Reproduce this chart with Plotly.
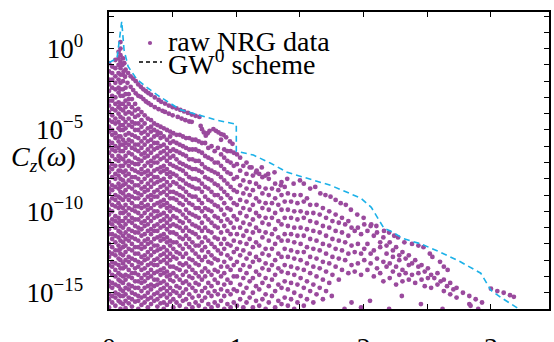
import numpy as np
import plotly.graph_objects as go

# ---------------- data ----------------
# raw NRG data: column positions (omega) and the log10 C_z values seen in each column
cloud_omega = [0.000, 0.025, 0.05, 0.075, 0.09, 0.11, 0.13, 0.155, 0.18, 0.205, 0.23, 0.255, 0.28, 0.305,
               0.33, 0.355, 0.38, 0.405, 0.43, 0.455, 0.48,
               0.505, 0.53, 0.555, 0.58, 0.605, 0.63, 0.655, 0.68, 0.705, 0.73, 0.755, 0.78, 0.805, 0.83,
               0.855, 0.88, 0.905, 0.93, 0.955, 0.98,
               1.005, 1.03, 1.055, 1.08, 1.105, 1.13, 1.155, 1.18, 1.205, 1.23, 1.255, 1.28, 1.305, 1.33,
               1.355, 1.38, 1.405, 1.43, 1.455, 1.48,
               1.505, 1.53, 1.555, 1.58, 1.605, 1.63, 1.655, 1.68, 1.705, 1.73, 1.755, 1.78, 1.805, 1.83,
               1.855, 1.88, 1.905, 1.93, 1.955, 1.98,
               2.005, 2.03, 2.055, 2.08, 2.105, 2.13, 2.155, 2.18, 2.205, 2.23, 2.255, 2.28, 2.305, 2.33,
               2.355, 2.38, 2.405, 2.43, 2.455, 2.48, 2.505, 2.53, 2.555, 2.58, 2.605, 2.63, 2.655, 2.68,
               2.705, 2.73, 2.78, 2.83, 2.88, 2.93]

cloud_lgc = [
    [-15.9,-15.4,-15.1,-14.6,-14.3,-13.7,-13.3,-12.8,-12.5,-12.0,-11.4,-11.1,-10.7,-10.2,-9.9,-9.4,-8.9,-8.6,-8.2,-7.6,-7.3,-6.9,-6.4,-6.0,-5.7,-5.1,-4.8,-4.4,-3.9,-3.5,-3.2,-2.6,-2.2,-1.9,-1.4,-0.9],
    [-15.6,-15.2,-14.7,-14.4,-13.9,-13.4,-13.1,-12.6,-12.2,-11.7,-11.4,-10.8,-10.5,-10.0,-9.6,-9.2,-8.7,-8.4,-7.9,-7.4,-7.1,-6.6,-6.2,-5.8,-5.3,-5.0,-4.5,-4.1,-3.7,-3.2,-2.9,-2.4,-1.9,-1.5,-1.1],
    [-15.8,-15.3,-15.0,-14.5,-14.0,-13.6,-13.2,-12.7,-12.4,-11.9,-11.5,-11.0,-10.6,-10.3,-9.7,-9.3,-9.0,-8.5,-8.0,-7.7,-7.2,-6.8,-6.3,-6.0,-5.5,-5.2,-4.6,-4.3,-3.8,-3.4,-3.0,-2.5,-2.1,-1.7,-1.2,-0.7],
    [-15.5,-15.1,-14.6,-14.2,-13.8,-13.3,-12.9,-12.4,-12.1,-11.6,-11.2,-10.7,-10.4,-9.8,-9.5,-9.1,-8.6,-8.3,-7.8,-7.5,-6.9,-6.6,-6.1,-5.7,-5.4,-4.9,-4.5,-4.0,-3.6,-3.3,-2.7,-2.4,-1.9,-1.5,-1.0,-0.6,-0.2],
    [-16.0,-15.6,-15.2,-14.8,-14.3,-13.9,-13.5,-13.0,-12.6,-12.3,-11.8,-11.3,-10.9,-10.6,-10.1,-9.7,-9.2,-8.8,-8.5,-8.0,-7.5,-7.2,-6.7,-6.3,-5.9,-5.4,-5.0,-4.7,-4.2,-3.7,-3.4,-2.9,-2.5,-2.1,-1.6,-1.2,-0.8,-0.4,0.0,0.4],
    [-15.7,-15.2,-14.9,-14.4,-14.0,-13.5,-13.2,-12.7,-12.2,-11.9,-11.5,-11.0,-10.6,-10.1,-9.8,-9.3,-8.9,-8.4,-8.1,-7.6,-7.2,-6.8,-6.3,-5.9,-5.6,-5.0,-4.7,-4.3,-3.8,-3.4,-2.9,-2.5,-2.0,-1.6],
    [-15.95,-15.5,-15.1,-14.7,-14.2,-13.9,-13.4,-13.0,-12.5,-12.1,-11.7,-11.3,-10.8,-10.4,-10.0,-9.6,-9.1,-8.7,-8.3,-7.8,-7.5,-7.0,-6.6,-6.1,-5.8,-5.3,-4.9,-4.5,-4.0,-3.6,-3.2,-2.8,-2.4],
    [-15.65,-15.3,-14.8,-14.5,-14.0,-13.6,-13.1,-12.8,-12.3,-11.8,-11.5,-11.1,-10.6,-10.2,-9.8,-9.3,-9.0,-8.5,-8.1,-7.7,-7.2,-6.9,-6.4,-5.9,-5.6,-5.2,-4.7,-4.3,-3.9,-3.4,-3.1,-2.8],
    [-15.85,-15.4,-15.0,-14.6,-14.1,-13.8,-13.3,-12.9,-12.4,-12.0,-11.6,-11.2,-10.7,-10.4,-9.9,-9.5,-9.1,-8.6,-8.2,-7.9,-7.4,-7.0,-6.5,-6.1,-5.7,-5.3,-4.8,-4.5,-4.0,-3.6,-3.1],
    [-15.55,-15.1,-14.7,-14.3,-13.8,-13.5,-13.0,-12.6,-12.2,-11.7,-11.3,-10.9,-10.5,-10.0,-9.7,-9.2,-8.8,-8.4,-7.9,-7.5,-7.1,-6.7,-6.2,-5.9,-5.4,-5.0,-4.6,-4.2,-3.8,-3.4],
    [-16.0,-15.5,-15.2,-14.7,-14.3,-13.9,-13.4,-13.1,-12.6,-12.2,-11.8,-11.3,-11.0,-10.5,-10.1,-9.7,-9.2,-8.9,-8.4,-8.0,-7.6,-7.1,-6.8,-6.3,-5.9,-5.5,-5.0,-4.6,-4.1,-3.7],
    [-15.75,-15.3,-14.9,-14.4,-14.1,-13.6,-13.2,-12.8,-12.3,-12.0,-11.5,-11.1,-10.7,-10.3,-9.8,-9.5,-9.0,-8.6,-8.2,-7.7,-7.4,-6.9,-6.5,-6.1,-5.7,-5.2,-4.8,-4.4,-3.9],
    [-15.6,-15.2,-14.7,-14.3,-13.9,-13.5,-13.0,-12.7,-12.2,-11.8,-11.4,-10.9,-10.6,-10.1,-9.7,-9.3,-8.8,-8.5,-8.0,-7.6,-7.2,-6.7,-6.4,-5.9,-5.5,-5.1,-4.6,-4.1],
    [-15.9,-15.4,-15.0,-14.6,-14.1,-13.8,-13.3,-12.9,-12.5,-12.0,-11.7,-11.2,-10.8,-10.4,-9.9,-9.6,-9.1,-8.7,-8.3,-7.8,-7.5,-7.0,-6.6,-6.2,-5.7,-5.3,-4.9,-4.3],
    [-15.7,-15.3,-14.8,-14.5,-14.0,-13.6,-13.2,-12.7,-12.3,-11.9,-11.4,-11.1,-10.6,-10.2,-9.8,-9.3,-9.0,-8.5,-8.1,-7.7,-7.2,-6.9,-6.4,-6.0,-5.6,-5.1,-4.8,-4.4],
    [-15.5,-15.1,-14.6,-14.2,-13.8,-13.3,-13.0,-12.5,-12.1,-11.7,-11.2,-10.9,-10.4,-10.0,-9.6,-9.1,-8.8,-8.3,-7.9,-7.5,-7.0,-6.7,-6.2,-5.8,-5.4,-5.0,-4.6],
    [-15.85,-15.4,-15.0,-14.5,-14.2,-13.7,-13.3,-12.9,-12.4,-12.1,-11.6,-11.2,-10.8,-10.3,-10.0,-9.5,-9.1,-8.7,-8.2,-7.9,-7.4,-7.0,-6.6,-6.1,-5.8,-5.3,-5.1,-4.7],
    [-15.65,-15.2,-14.8,-14.4,-13.9,-13.6,-13.1,-12.7,-12.3,-11.8,-11.5,-11.0,-10.6,-10.2,-9.7,-9.4,-8.9,-8.5,-8.1,-7.6,-7.3,-6.8,-6.4,-6.0,-5.5,-5.2,-4.8],
    [-16.0,-15.6,-15.1,-14.7,-14.3,-13.8,-13.5,-13.0,-12.6,-12.2,-11.7,-11.4,-10.9,-10.5,-10.1,-9.6,-9.3,-8.8,-8.4,-8.0,-7.5,-7.2,-6.7,-6.3,-5.9,-5.4,-4.9],
    [-15.75,-15.3,-14.9,-14.5,-14.0,-13.7,-13.2,-12.8,-12.4,-11.9,-11.6,-11.1,-10.7,-10.3,-9.8,-9.5,-9.0,-8.6,-8.2,-7.7,-7.4,-6.9,-6.5,-6.1,-5.6,-5.0],
    [-15.55,-15.1,-14.7,-14.2,-13.9,-13.4,-13.0,-12.6,-12.1,-11.8,-11.3,-10.9,-10.5,-10.0,-9.7,-9.2,-8.8,-8.4,-7.9,-7.6,-7.1,-6.7,-6.3,-5.8,-5.4,-5.1],
    [-15.9,-15.4,-14.9,-14.3,-13.8,-13.4,-12.8,-12.3,-11.9,-11.3,-10.8,-10.3,-9.8,-9.2,-8.8,-8.2,-7.7,-7.2,-6.6,-6.2,-5.7,-5.2],
    [-15.6,-15.0,-14.6,-14.0,-13.5,-12.9,-12.5,-11.9,-11.4,-10.9,-10.4,-9.9,-9.3,-8.9,-8.3,-7.8,-7.3,-6.8,-6.3,-5.8,-5.3],
    [-15.8,-15.2,-14.7,-14.2,-13.6,-13.2,-12.6,-12.1,-11.6,-11.0,-10.6,-10.0,-9.5,-9.0,-8.5,-8.0,-7.4,-7.0,-6.4,-5.9,-5.3],
    [-15.5,-15.0,-14.4,-13.9,-13.3,-12.8,-12.3,-11.7,-11.2,-10.7,-10.2,-9.6,-9.1,-8.6,-8.1,-7.5,-7.1,-6.5,-6.0,-5.4],
    [-16.0,-15.4,-14.8,-14.3,-13.7,-13.2,-12.6,-12.0,-11.5,-11.0,-10.4,-9.9,-9.3,-8.8,-8.3,-7.7,-7.2,-6.6,-6.1,-5.5],
    [-15.7,-15.1,-14.5,-14.0,-13.4,-12.9,-12.2,-11.7,-11.2,-10.6,-10.1,-9.5,-9.0,-8.4,-7.9,-7.3,-6.8,-6.2,-5.5],
    [-15.9,-15.3,-14.7,-14.1,-13.6,-13.0,-12.4,-11.9,-11.3,-10.8,-10.2,-9.6,-9.1,-8.5,-8.0,-7.4,-6.8,-6.2,-5.6],
    [-15.6,-14.9,-14.4,-13.8,-13.2,-12.6,-12.1,-11.4,-10.9,-10.3,-9.8,-9.1,-8.6,-8.0,-7.4,-6.9,-6.2,-5.6],
    [-15.8,-15.2,-14.5,-14.0,-13.3,-12.8,-12.1,-11.6,-11.0,-10.4,-9.8,-9.3,-8.6,-8.1,-7.5,-6.9,-6.3,-5.7],
    [-15.5,-14.9,-14.2,-13.7,-13.0,-12.4,-11.9,-11.2,-10.7,-10.0,-9.5,-8.8,-8.3,-7.6,-7.1,-6.4,-5.8],
    [-16.0,-15.3,-14.7,-14.0,-13.5,-12.8,-12.2,-11.6,-11.0,-10.3,-9.8,-9.1,-8.5,-7.9,-7.3,-6.6,-5.8],
    [-15.7,-15.0,-14.4,-13.7,-13.1,-12.5,-11.8,-11.2,-10.5,-9.9,-9.3,-8.6,-8.0,-7.4,-6.7,-6.1],
    [-15.9,-15.2,-14.6,-13.9,-13.2,-12.7,-12.0,-11.3,-10.7,-10.0,-9.4,-8.8,-8.1,-7.5,-6.8,-6.0],
    [-15.6,-14.9,-14.2,-13.6,-12.9,-12.2,-11.6,-10.9,-10.3,-9.6,-9.0,-8.3,-7.6,-7.0,-6.3],
    [-15.8,-15.1,-14.4,-13.7,-13.0,-12.4,-11.7,-11.0,-10.4,-9.7,-9.0,-8.4,-7.7,-7.0,-6.1],
    [-15.5,-14.8,-14.0,-13.4,-12.6,-12.0,-11.3,-10.6,-9.9,-9.2,-8.6,-7.9,-7.2,-6.5],
    [-16.0,-15.2,-14.5,-13.8,-13.1,-12.3,-11.7,-10.9,-10.2,-9.5,-8.8,-8.1,-7.4,-6.7,-6.2],
    [-15.7,-14.9,-14.2,-13.4,-12.7,-12.0,-11.2,-10.5,-9.8,-9.0,-8.3,-7.6,-6.9,-6.3],
    [-15.9,-15.1,-14.4,-13.6,-12.9,-12.1,-11.4,-10.7,-9.9,-9.2,-8.5,-7.7,-7.0,-6.3],
    [-15.6,-14.8,-14.0,-13.3,-12.5,-11.8,-11.0,-10.3,-9.5,-8.7,-8.0,-7.2,-6.4],
    [-15.8,-14.9,-14.0,-13.1,-12.3,-11.4,-10.5,-9.6,-8.8,-7.9,-7.1,-6.5],
    [-15.4,-14.5,-13.6,-12.7,-11.9,-11.0,-10.1,-9.3,-8.4,-7.5,-6.7],
    [-15.9,-15.0,-14.1,-13.3,-12.4,-11.5,-10.7,-9.8,-8.9,-8.1,-7.2],
    [-15.6,-14.7,-13.8,-12.9,-12.0,-11.2,-10.3,-9.4,-8.6,-7.7,-7.0],
    [-15.3,-14.3,-13.4,-12.6,-11.7,-10.8,-9.9,-9.0,-8.2,-7.3],
    [-15.9,-15.0,-14.1,-13.1,-12.2,-11.3,-10.5,-9.6,-8.7,-7.8],
    [-15.5,-14.6,-13.7,-12.8,-11.9,-11.0,-10.1,-9.2,-8.3,-7.6],
    [-15.8,-14.8,-13.9,-13.0,-12.1,-11.2,-10.3,-9.4,-8.5,-7.7],
    [-15.4,-14.4,-13.5,-12.6,-11.6,-10.7,-9.8,-8.9,-7.9],
    [-16.0,-15.1,-14.1,-13.2,-12.3,-11.3,-10.4,-9.5,-8.6,-7.8],
    [-15.6,-14.6,-13.6,-12.7,-11.8,-10.8,-9.9,-9.0,-8.0],
    [-15.2,-14.2,-13.3,-12.3,-11.4,-10.4,-9.5,-8.6],
    [-15.9,-14.9,-13.9,-13.0,-12.0,-11.1,-10.1,-9.2,-8.3],
    [-15.5,-14.5,-13.5,-12.6,-11.6,-10.6,-9.6,-8.7],
    [-15.7,-14.7,-13.7,-12.8,-11.8,-10.8,-9.9,-9.0,-8.2],
    [-15.3,-14.3,-13.3,-12.3,-11.4,-10.4,-9.4,-8.5],
    [-15.8,-14.8,-13.8,-12.8,-11.8,-10.9,-9.9,-8.9],
    [-15.4,-14.4,-13.4,-12.4,-11.4,-10.4,-9.4],
    [-16.0,-15.0,-13.9,-12.9,-11.9,-11.0,-10.0,-9.0],
    [-15.6,-14.5,-13.5,-12.5,-11.5,-10.5,-9.5],
    [-15.2,-14.1,-13.0,-12.0,-11.0,-10.0,-9.0],
    [-15.8,-14.7,-13.6,-12.5,-11.5,-10.4,-9.4],
    [-15.4,-14.3,-13.2,-12.2,-11.1,-10.1,-9.2],
    [-14.9,-13.8,-12.8,-11.7,-10.6,-9.6],
    [-15.6,-14.5,-13.4,-12.3,-11.2,-10.1],
    [-15.1,-14.0,-12.9,-11.8,-10.7,-9.6],
    [-14.7,-13.5,-12.4,-11.3,-10.2],
    [-15.4,-14.2,-13.1,-12.0,-10.9,-9.8],
    [-14.9,-13.7,-12.6,-11.5,-10.4],
    [-14.4,-13.2,-12.1,-11.0,-10.0],
    [-13.9,-12.8,-11.7,-10.6],
    [-13.4,-12.3,-11.2,-10.2],
    [-14.2,-12.9,-11.8,-10.7],
    [-13.6,-12.4,-11.3,-10.4],
    [-13.0,-11.9,-10.8],
    [-13.8,-12.6,-11.5,-10.6],
    [-15.6,-13.3,-12.1,-11.0],
    [-13.7,-12.5,-11.2],
    [-13.2,-12.0,-11.0],
    [-15.9,-13.9,-12.6,-11.4],
    [-10.8,-12.3,-13.0],
    [-11.2,-12.0,-13.6],
    [-10.9,-12.6,-13.2],
    [-11.5,-12.4,-14.0],
    [-11.3,-12.9,-13.5],
    [-11.9,-12.2,-13.8],
    [-11.6,-13.1,-14.3],
    [-12.1,-12.6,-13.4],
    [-11.9,-13.2,-14.1],
    [-12.4,-12.8,-13.7],
    [-12.2,-13.4,-14.5],
    [-12.7,-13.0,-13.9],
    [-12.5,-13.6,-14.3],
    [-12.9,-13.8],
    [-12.7,-13.3,-14.2],
    [-13.2,-13.9],
    [-13.0,-14.4],
    [-13.4,-13.8],
    [-13.3,-14.2],
    [-13.7,-14.6],
    [-13.5,-14.1],
    [-13.9,-14.7],
    [-14.1],
    [-13.8,-14.5],
    [-14.3],
    [-14.2,-14.9],
    [-14.6],
    [-14.4,-15.1],
    [-14.8],
    [-14.7,-15.3],
    [-15.0],
    [-15.2,-15.7],
    [-15.4],
    [-15.6],
]

# the two bright peak branches, the V-shaped group and the dots hugging the GW0 curve
arc_a_omega = [0.11,0.12,0.13,0.15,0.17,0.19,0.21,0.23,0.25,0.27,0.29,0.31,0.33,0.36,0.39,0.41,0.44,0.47,0.50,0.53,0.56,0.59,0.62,0.65,0.68,0.71]
arc_a_lgc = [-0.6,-0.9,-1.3,-1.5,-1.7,-1.85,-2.0,-2.2,-2.35,-2.5,-2.62,-2.74,-2.84,-3.0,-3.15,-3.27,-3.38,-3.5,-3.6,-3.68,-3.77,-3.86,-3.95,-4.05,-4.13,-4.2]
arc_b_omega = [0.105,0.115,0.126,0.145,0.17,0.19,0.21,0.23,0.25,0.27,0.29,0.31,0.33,0.36,0.39,0.42,0.44,0.47,0.50,0.54,0.57,0.60,0.63,0.65]
arc_b_lgc = [-1.0,-1.4,-1.73,-2.1,-2.35,-2.55,-2.75,-2.9,-2.96,-3.1,-3.25,-3.35,-3.46,-3.6,-3.72,-3.82,-3.89,-4.0,-4.1,-4.2,-4.3,-4.4,-4.48,-4.5]
v_group_omega = [0.72,0.73,0.745,0.76,0.775,0.79,0.82,0.84,0.86,0.88,0.90,0.88,0.92,0.95,0.97]
v_group_lgc = [-4.75,-4.95,-5.15,-5.35,-5.2,-5.05,-4.95,-5.05,-5.15,-5.25,-5.3,-5.6,-5.45,-5.7,-5.85]
edge_omega = [1.12,1.16,1.20,1.25,1.30,1.35,1.40,1.45,1.50,1.53,1.58,1.62,1.66,1.70,1.74,1.78,1.82,1.86,1.90,1.95,
              2.00,2.06,2.10,2.16,2.20,2.24,2.27,2.32,2.38,2.43,2.47,2.52,2.54,2.60,2.63,2.66,
              3.00,3.05,3.10,3.15,3.18, 1.75,1.85,2.05,2.20,2.30,2.45,2.62,2.84,2.90]
edge_lgc = [-7.3,-7.5,-7.3,-7.7,-7.6,-8.4,-8.0,-8.3,-8.1,-8.3,-8.6,-8.5,-8.9,-9.0,-9.1,-9.3,-9.5,-9.6,-9.9,-10.2,
            -10.4,-10.8,-10.9,-11.2,-11.3,-11.5,-11.6,-11.9,-12.0,-12.1,-12.2,-12.6,-12.8,-13.1,-13.4,-13.6,
            -14.75,-14.9,-15.0,-15.15,-15.25, -15.2,-16.0,-15.5,-16.0,-15.2,-15.7,-16.0,-15.8,-16.0]

# GW0 scheme curve
gw_omega = [0.0,0.063,0.1,0.118,0.15,0.22,0.30,0.40,0.56,0.73,0.85,1.0,1.0,1.134,1.27,1.4,1.56,1.74,1.87,1.98,
            2.06,2.11,2.16,2.21,2.31,2.45,2.6,2.76,2.92,3.0,3.08,3.21]
gw_lgc = [-0.86,-0.6,1.67,-0.06,-1.1,-1.9,-2.4,-2.96,-3.75,-4.15,-4.4,-4.65,-6.3,-6.54,-7.04,-7.6,-7.96,-8.4,-8.83,-9.2,
          -9.75,-10.4,-11.05,-11.2,-11.67,-12.0,-12.5,-13.1,-13.8,-14.85,-15.3,-15.95]

x_ticks = [0, 0.5, 1, 1.5, 2, 2.5, 3]
x_ticktext = ["0", "", "1", "", "2", "", "3"]
x_title_pos = [1.74]            # where the (cut-off) omega axis label sits under the axis
x_title_text = ["<i>ω</i>"]
y_decades = list(range(-16, 3))
y_labelled = {0: "10<sup>0</sup>\u00a0", -5: "10<sup>−5</sup>\u00a0", -10: "10<sup>−10</sup>\u00a0",
              -15: "10<sup>−15</sup>\u00a0"}

# ---------------- build ----------------
nrg_x, nrg_lg = [], []
for om, col in zip(cloud_omega, cloud_lgc):
    nrg_x += [om] * len(col)
    nrg_lg += col
for ox, oy in ((arc_a_omega, arc_a_lgc), (arc_b_omega, arc_b_lgc), (v_group_omega, v_group_lgc), (edge_omega, edge_lgc)):
    nrg_x += ox
    nrg_lg += oy
nrg_y = 10.0 ** np.array(nrg_lg)

PURPLE = "#9a4a9d"
CYAN = "#1cb1e8"
FONT = "Liberation Serif, Times New Roman, serif"

L, R, T, B = 109, 5, 12, 33
W, H = 554, 342
pw, ph = W - L - R, H - T - B
Y_LO, Y_HI = -16.0, 2.25
X_HI = 3.456


def px(xp):
    return (xp - L) / pw


def py(yp):
    return (H - B - yp) / ph


fig = go.Figure()
fig.add_trace(go.Scatter(x=nrg_x, y=nrg_y, mode="markers",
                         marker=dict(size=4.8, color=PURPLE, line=dict(width=0)),
                         name="raw NRG data"))
fig.add_trace(go.Scatter(x=gw_omega, y=10.0 ** np.array(gw_lgc), mode="lines",
                         line=dict(color=CYAN, width=1.6, dash="6px,4px"),
                         name="GW0 scheme"))
# empty trace that keeps the overlay axis carrying the omega label alive
fig.add_trace(go.Scatter(x=[None], y=[None], xaxis="x2", yaxis="y", mode="markers",
                         showlegend=False, hoverinfo="skip"))

fig.update_layout(
    width=W, height=H, margin=dict(l=L, r=R, t=T, b=B, pad=0, autoexpand=False),
    plot_bgcolor="white", paper_bgcolor="white", showlegend=False,
    font=dict(family=FONT, size=27, color="black"),
    xaxis=dict(range=[0, X_HI], tickvals=x_ticks, ticktext=x_ticktext,
               ticks="inside", ticklen=5, tickwidth=1.3, tickcolor="black",
               showline=True, linewidth=1.5, linecolor="black", mirror="ticks",
               showgrid=False, zeroline=False, tickfont=dict(size=28, family=FONT),
               ticklabelstandoff=13, automargin=False),
    xaxis2=dict(overlaying="x", anchor="y", side="bottom", range=[0, X_HI],
                tickvals=x_title_pos, ticktext=x_title_text, ticks="", showline=False,
                showgrid=False, zeroline=False, tickfont=dict(size=21, family=FONT, color="black"),
                ticklabelstandoff=30, automargin=False),
    yaxis=dict(type="log", range=[Y_LO, Y_HI],
               tickvals=[10.0 ** k for k in y_decades],
               ticktext=[y_labelled.get(k, "") for k in y_decades],
               ticks="inside", ticklen=5, tickwidth=1.3, tickcolor="black",
               showline=True, linewidth=1.5, linecolor="black", mirror="ticks",
               showgrid=False, zeroline=False, tickfont=dict(size=27, family=FONT),
               ticklabelstandoff=12, automargin=False),
)

# hand-drawn legend (as in the reference: black dashed sample, tight rows)
fig.add_shape(type="circle", xref="paper", yref="paper", xsizemode="pixel", ysizemode="pixel",
              xanchor=px(150), yanchor=py(43), x0=-2.1, x1=2.1, y0=-2.1, y1=2.1,
              fillcolor=PURPLE, line=dict(width=0))
fig.add_shape(type="line", xref="paper", yref="paper", x0=px(139), x1=px(162), y0=py(62), y1=py(62),
              line=dict(color="black", width=1.4, dash="4px,3px"))
fig.add_annotation(text="raw NRG data", xref="paper", yref="paper", x=px(166), y=py(41),
                   xanchor="left", yanchor="middle", showarrow=False, font=dict(size=28, family=FONT))
fig.add_annotation(text="GW<sup>0</sup> scheme", xref="paper", yref="paper", x=px(166), y=py(62),
                   xanchor="left", yanchor="middle", showarrow=False, font=dict(size=28, family=FONT))

# y-axis title
fig.add_annotation(text="<i>C</i><sub><i>z</i></sub>(<i>ω</i>)", xref="paper", yref="paper", x=px(43), y=py(158),
                   xanchor="center", yanchor="middle", showarrow=False, font=dict(size=28, family=FONT))

fig.write_html("out.html")
